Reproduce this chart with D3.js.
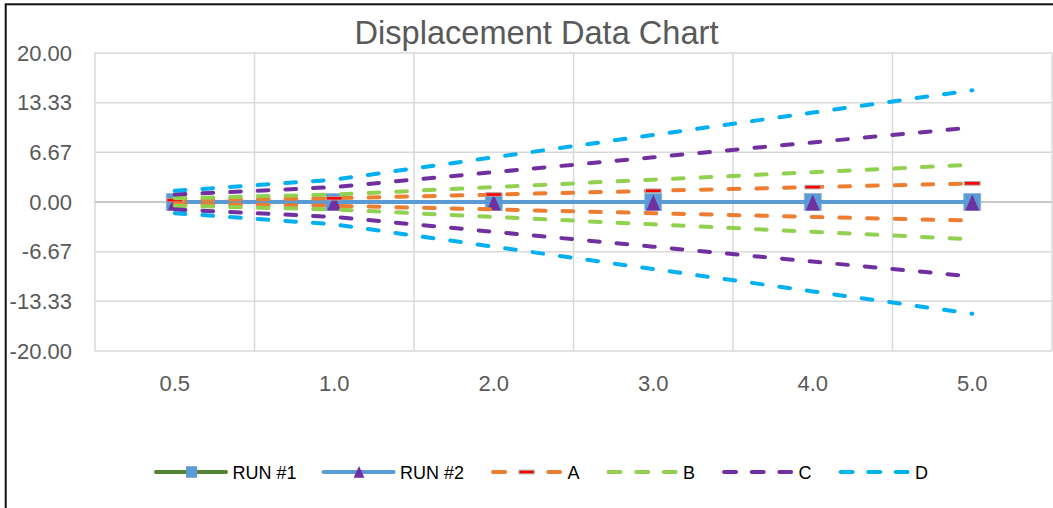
<!DOCTYPE html>
<html>
<head>
<meta charset="utf-8">
<script src="https://cdn.jsdelivr.net/npm/d3@7"></script>
<style>
  html, body { margin: 0; padding: 0; background: #fff; }
  svg { display: block; }
</style>
</head>
<body>
<svg id="chart" width="1053" height="508"></svg>
<script>
// ---------- data ----------
const categories = ["0.5", "1.0", "2.0", "3.0", "4.0", "5.0"];
const run1 = [0, 0, 0, 0, 0, 0];
const run2 = [0, 0, 0, 0, 0, 0];
const seriesA = [0.25, 0.5, 1, 1.5, 2, 2.5];
const seriesAneg = [-0.25, -0.5, -1, -1.5, -2, -2.5];
const seriesB = [0.5, 1, 2, 3, 4, 5];
const seriesBneg = [-0.5, -1, -2, -3, -4, -5];
const seriesC = [1, 2, 4, 6, 8, 10];
const seriesCneg = [-1, -2, -4, -6, -8, -10];
const seriesD = [1.5, 3, 6, 9, 12, 15];
const seriesDneg = [-1.5, -3, -6, -9, -12, -15];
const yTicks = [-20, -40/3, -20/3, 0, 20/3, 40/3, 20];
const yTickLabels = ["-20.00", "-13.33", "-6.67", "0.00", "6.67", "13.33", "20.00"];
const title = "Displacement Data Chart";
const legendNames = ["RUN #1", "RUN #2", "A", "B", "C", "D"];

// ---------- styling ----------
const COL = {
  run1: "#548235", run2: "#5B9BD5", sq: "#5B9BD5", tri: "#7030A0",
  A: "#ED7D31", B: "#92D050", C: "#7030A0", D: "#00B0F0",
  grid: "#D9D9D9", axis: "#BFBFBF", text: "#595959"
};
const FONT = "'Liberation Sans', Arial, sans-serif";

const svg = d3.select("#chart");
const plot = { left: 95, right: 1052, top: 53, bottom: 351 };

const x = d3.scaleBand().domain(categories).range([plot.left, plot.right]).paddingInner(0).paddingOuter(0);
const y = d3.scaleLinear().domain([-20, 20]).range([plot.bottom, plot.top]);
const cx = c => x(c) + x.bandwidth() / 2;

// chart border (left/top visible)
svg.append("rect").attr("x", 5.7).attr("y", 4.3).attr("width", 1100).attr("height", 600)
  .attr("fill", "none").attr("stroke", "#111").attr("stroke-width", 2);

// title
svg.append("text").attr("x", 536.5).attr("y", 44).attr("text-anchor", "middle")
  .attr("font-family", FONT).attr("font-size", 32.6).attr("fill", COL.text).text(title);

// horizontal gridlines
svg.append("g").selectAll("line").data(yTicks).join("line")
  .attr("x1", plot.left).attr("x2", plot.right)
  .attr("y1", d => y(d)).attr("y2", d => y(d))
  .attr("stroke", COL.grid).attr("stroke-width", 1.5);

// vertical gridlines at category boundaries
const bounds = categories.map(c => x(c)).concat([x(categories[categories.length - 1]) + x.bandwidth()]);
svg.append("g").selectAll("line").data(bounds).join("line")
  .attr("x1", d => d).attr("x2", d => d)
  .attr("y1", plot.top).attr("y2", plot.bottom)
  .attr("stroke", COL.grid).attr("stroke-width", 1.5);

// zero axis line
svg.append("line").attr("x1", plot.left).attr("x2", plot.right)
  .attr("y1", y(0)).attr("y2", y(0)).attr("stroke", COL.axis).attr("stroke-width", 1.5);

// y tick labels
svg.append("g").selectAll("text").data(yTicks).join("text")
  .attr("x", 72).attr("y", d => y(d) + 7.5).attr("text-anchor", "end")
  .attr("font-family", FONT).attr("font-size", 22).attr("fill", COL.text)
  .text((d, i) => yTickLabels[i]);

// category labels
svg.append("g").selectAll("text").data(categories).join("text")
  .attr("x", d => cx(d)).attr("y", 390.5).attr("text-anchor", "middle")
  .attr("font-family", FONT).attr("font-size", 22).attr("fill", COL.text)
  .text(d => d);

const line = d3.line().x((d, i) => cx(categories[i])).y(d => y(d));
const DASH = "10.7 17";

function drawLine(vals, color, dashed) {
  svg.append("path").datum(vals).attr("d", line)
    .attr("fill", "none").attr("stroke", color).attr("stroke-width", 4)
    .attr("stroke-linecap", dashed ? "round" : "butt")
    .attr("stroke-dasharray", dashed ? DASH : null);
}
function squares(vals) {
  svg.append("g").selectAll("rect").data(vals).join("rect")
    .attr("x", (d, i) => cx(categories[i]) - 8.5).attr("y", d => y(d) - 8.5)
    .attr("width", 17).attr("height", 17).attr("fill", COL.sq)
    .attr("stroke", "#8FB4DE").attr("stroke-width", 0.8);
}
function triangles(vals) {
  svg.append("g").selectAll("path").data(vals).join("path")
    .attr("d", (d, i) => {
      const px = cx(categories[i]), py = y(d);
      return `M${px},${py - 7.5}L${px + 7},${py + 8.5}L${px - 7},${py + 8.5}Z`;
    })
    .attr("fill", COL.tri);
}
function dashMarks(vals) {
  svg.append("g").selectAll("rect").data(vals).join("rect")
    .attr("x", (d, i) => cx(categories[i]) - 7.8).attr("y", d => y(d) - 1.8)
    .attr("width", 15.6).attr("height", 3.6).attr("fill", "#FF0000")
    .attr("stroke", "#A5A5A5").attr("stroke-width", 1);
}

// series in order
drawLine(run1, COL.run1, false); squares(run1);
drawLine(run2, COL.run2, false); triangles(run2);
drawLine(seriesA, COL.A, true); dashMarks(seriesA);
drawLine(seriesAneg, COL.A, true);
drawLine(seriesB, COL.B, true);
drawLine(seriesBneg, COL.B, true);
drawLine(seriesC, COL.C, true);
drawLine(seriesCneg, COL.C, true);
drawLine(seriesD, COL.D, true);
drawLine(seriesDneg, COL.D, true);

// ---------- legend ----------
const legColors = [COL.run1, COL.run2, COL.A, COL.B, COL.C, COL.D];
const legY = 472;
let lx = 156;
const lg = svg.append("g");
legendNames.forEach((name, i) => {
  const g = lg.append("g");
  const dashed = i >= 2;
  g.append("line")
    .attr("x1", dashed ? lx + 2 : lx).attr("x2", dashed ? lx + 69 : lx + 70)
    .attr("y1", legY).attr("y2", legY)
    .attr("stroke", legColors[i]).attr("stroke-width", 4)
    .attr("stroke-linecap", "round")
    .attr("stroke-dasharray", dashed ? "12 15.6" : null);
  const mx = lx + 35.5;
  if (i === 0) {
    g.append("rect").attr("x", mx - 5.5).attr("y", legY - 5.7).attr("width", 11).attr("height", 11.4)
      .attr("fill", COL.sq);
  } else if (i === 1) {
    g.append("path").attr("d", `M${mx},${legY - 6}L${mx + 5.5},${legY + 5.7}L${mx - 5.5},${legY + 5.7}Z`)
      .attr("fill", COL.tri);
  } else if (i === 2) {
    g.append("rect").attr("x", mx - 7.5).attr("y", legY - 1.8).attr("width", 15).attr("height", 3.6)
      .attr("fill", "#FF0000").attr("stroke", "#A5A5A5").attr("stroke-width", 1);
  }
  const t = g.append("text").attr("x", lx + 76.5).attr("y", legY + 7)
    .attr("font-family", FONT).attr("font-size", 18).attr("fill", "#000").text(name);
  const w = t.node().getComputedTextLength();
  lx = lx + 76.5 + w + 27;
});
</script>
</body>
</html>
